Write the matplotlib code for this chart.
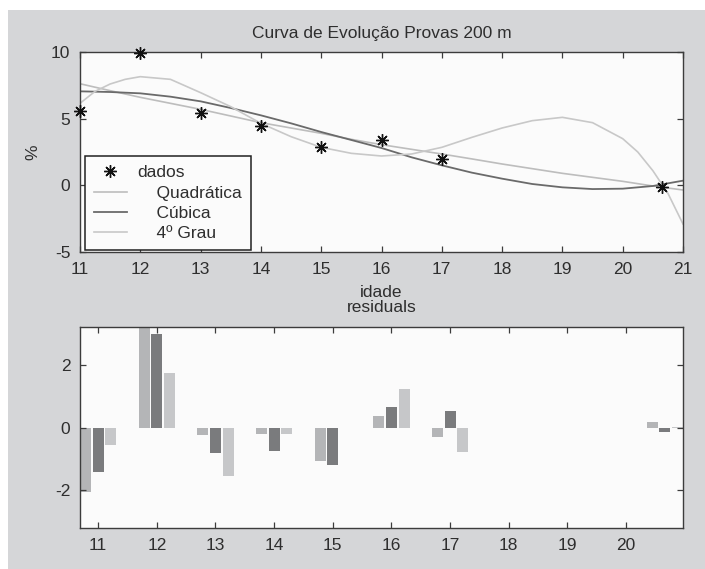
import matplotlib
matplotlib.use("Agg")
import matplotlib.pyplot as plt
from matplotlib.patches import Rectangle

plt.rcParams['font.family'] = ['Liberation Sans', 'DejaVu Sans']
plt.rcParams['axes.unicode_minus'] = False

# ---------------- data ----------------
idade = [11, 12, 13, 14, 15, 16, 17, 20.66]
dados = [5.57, 9.9, 5.45, 4.47, 2.87, 3.4, 2.0, -0.1]

x_fit = [11, 11.5, 12, 12.5, 13, 13.5, 14, 14.5, 15, 15.5, 16, 16.5,
         17, 17.5, 18, 18.5, 19, 19.5, 20, 20.5, 21]
quadratica = [7.62, 7.1, 6.6, 6.15, 5.7, 5.2, 4.7, 4.3, 3.9, 3.45, 3.05, 2.7,
              2.35, 1.98, 1.6, 1.25, 0.9, 0.6, 0.3, -0.05, -0.35]
cubica = [7.05, 7.0, 6.9, 6.65, 6.3, 5.8, 5.25, 4.65, 4.0, 3.4, 2.8, 2.1,
          1.5, 0.95, 0.5, 0.1, -0.15, -0.28, -0.25, -0.05, 0.35]

x_q4 = [11, 11.25, 11.5, 11.75, 12, 12.5, 13, 13.5, 14, 14.5, 15, 15.5, 16,
        16.5, 17, 17.5, 18, 18.5, 19, 19.5, 20, 20.25, 20.5, 20.75, 21]
grau4 = [6.15, 7.05, 7.6, 7.95, 8.15, 7.95, 6.95, 5.9, 4.65, 3.65, 2.85, 2.4, 2.2,
         2.35, 2.85, 3.6, 4.3, 4.85, 5.1, 4.7, 3.5, 2.5, 1.1, -0.6, -2.9]

res_quad = [-2.08, 3.36, -0.25, -0.21, -1.07, 0.36, -0.30, 0.19]
res_cub = [-1.41, 2.99, -0.83, -0.75, -1.19, 0.67, 0.54, -0.13]
res_q4 = [-0.56, 1.74, -1.55, -0.21, -0.03, 1.22, -0.80, 0.03]

xticks_top = [11, 12, 13, 14, 15, 16, 17, 18, 19, 20, 21]
yticks_top = [-5, 0, 5, 10]
xticks_bot = [11, 12, 13, 14, 15, 16, 17, 18, 19, 20]
yticks_bot = [-2, 0, 2]

# ---------------- style ----------------
W, H = 705, 569
BG = '#d5d6d8'
AXBG = '#fbfbfb'
TXT = '#2e2e2e'
SPINE = '#3c3c3c'
C_QUAD = '#bdbdbd'
C_CUB = '#6a6a6a'
C_Q4 = '#c8c8c8'
B_QUAD = '#b4b5b7'
B_CUB = '#7a7b7d'
B_Q4 = '#c6c7c9'
FS = 12.5

fig = plt.figure(figsize=(W / 100, H / 100), dpi=100)
fig.patch.set_facecolor('white')
fig.add_artist(Rectangle((8 / W, 0), 1, 1 - 10 / H, transform=fig.transFigure,
                         facecolor=BG, edgecolor='none', zorder=-10))


def px_axes(l, t, r, b):
    return fig.add_axes([l / W, 1 - b / H, (r - l) / W, (b - t) / H])


def style(ax):
    ax.set_facecolor(AXBG)
    for s in ax.spines.values():
        s.set_color(SPINE)
        s.set_linewidth(1.0)
    ax.tick_params(direction='in', length=4.5, width=0.9, color=SPINE,
                   top=True, right=True, labelsize=FS, labelcolor=TXT, pad=7)


# top axes
ax1 = px_axes(80, 52, 683, 252)
style(ax1)
ax1.plot(idade, dados, linestyle='none', marker=(8, 2, 0), markersize=9,
         color='#111111', markeredgewidth=1.0, label='dados', zorder=5,
         clip_on=False)
ax1.plot(x_fit, quadratica, color=C_QUAD, lw=1.2, label='    Quadrática')
ax1.plot(x_fit, cubica, color=C_CUB, lw=1.3, label='    Cúbica')
ax1.plot(x_q4, grau4, color=C_Q4, lw=1.2, label='    4º Grau')
ax1.set_xlim(11, 21)
ax1.set_ylim(-5, 10)
ax1.set_xticks(xticks_top)
ax1.set_yticks(yticks_top)
ax1.set_title('Curva de Evolução Provas 200 m', fontsize=FS, color=TXT, pad=10)
ax1.set_xlabel('idade', fontsize=FS, color=TXT)
ax1.xaxis.set_label_coords(0.5, -0.165)
ax1.set_ylabel('%', fontsize=FS, color=TXT)
ax1.yaxis.set_label_coords(-0.078, 0.5)
ax1.yaxis.label.set_verticalalignment('center')

leg = ax1.legend(loc='lower left', bbox_to_anchor=(85 / W, 1 - 250 / H),
                 bbox_transform=fig.transFigure, fontsize=FS, frameon=True,
                 fancybox=False, framealpha=1, edgecolor='#202020',
                 borderaxespad=0, borderpad=0.5, handlelength=1.9,
                 handletextpad=0.6, labelspacing=0.3, labelcolor=TXT)
leg.get_frame().set_linewidth(1.1)
leg.get_frame().set_facecolor('#fbfbfb')

# bottom axes (residuals)
ax2 = px_axes(80, 327, 683, 528)
style(ax2)
bw = 0.19
off = 0.215
ax2.bar([x - off for x in idade], res_quad, width=bw, color=B_QUAD, edgecolor='none')
ax2.bar(idade, res_cub, width=bw, color=B_CUB, edgecolor='none')
ax2.bar([x + off for x in idade], res_q4, width=bw, color=B_Q4, edgecolor='none')
ax2.set_xlim(idade[0] - off - bw / 2, idade[-1] + off + bw / 2)
ax2.set_ylim(-3.22, 3.22)
ax2.set_xticks(xticks_bot)
ax2.set_yticks(yticks_bot)
ax2.set_title('residuals', fontsize=FS, color=TXT, pad=11)

fig.savefig('out.png', dpi=100, facecolor=fig.get_facecolor())
